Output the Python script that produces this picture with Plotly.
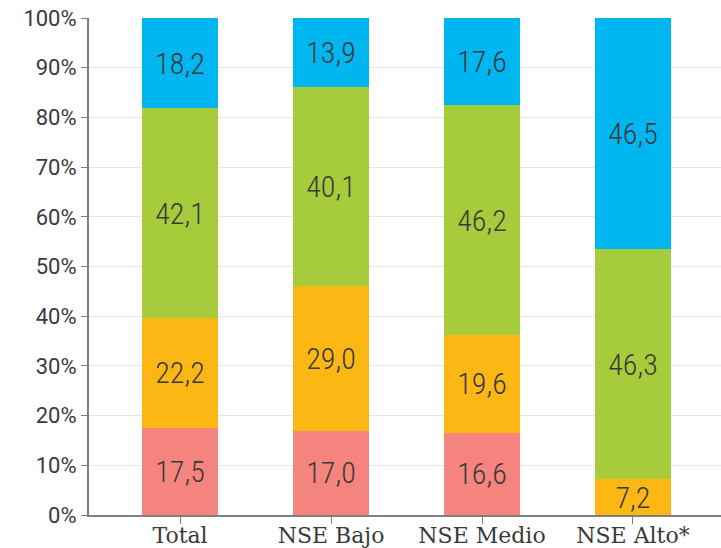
import plotly.graph_objects as go

categories = ["Total", "NSE Bajo", "NSE Medio", "NSE Alto*"]
series_names = ["Serie 1", "Serie 2", "Serie 3", "Serie 4"]
pink_vals = [17.5, 17.0, 16.6, 0.0]
orange_vals = [22.2, 29.0, 19.6, 7.2]
green_vals = [42.1, 40.1, 46.2, 46.3]
blue_vals = [18.2, 13.9, 17.6, 46.5]
y_ticks = [0, 10, 20, 30, 40, 50, 60, 70, 80, 90, 100]
y_tick_labels = [f"{v}%" for v in y_ticks]

colors = ["#F5847F", "#FCB714", "#A6CB3B", "#00B6F0"]
all_vals = [pink_vals, orange_vals, green_vals, blue_vals]

label_font = dict(family="Roboto Condensed, Liberation Sans Narrow, DejaVu Sans Condensed, Roboto",
                  size=30, color="#3a3a3a", weight=300)

fig = go.Figure()
for name, vals, col in zip(series_names, all_vals, colors):
    texts = [f"{v:.1f}".replace(".", ",") if v > 0 else "" for v in vals]
    fig.add_trace(go.Bar(
        x=categories, y=vals, name=name, marker=dict(color=col, line=dict(width=0)),
        text=texts, textposition="inside", insidetextanchor="middle",
        textfont=label_font, width=0.503, hoverinfo="skip",
        constraintext="none", textangle=0,
    ))

fig.update_layout(
    barmode="stack",
    width=721, height=548,
    margin=dict(l=89, r=0, t=18, b=33),
    plot_bgcolor="white", paper_bgcolor="white",
    showlegend=False,
    uniformtext=dict(minsize=30, mode="show"),
    xaxis=dict(
        range=[-0.603, 3.583], automargin=False,
        showline=True, linecolor="#7f7f7f", linewidth=2,
        ticks="outside", ticklen=7, tickcolor="#7f7f7f", tickwidth=1,
        ticklabelstandoff=-7,
        tickfont=dict(family="DejaVu Serif", size=22, color="#3a3a3a"),
        showgrid=False, fixedrange=True,
    ),
    yaxis=dict(
        range=[0, 100], tickvals=y_ticks, ticktext=y_tick_labels, automargin=False,
        showline=True, linecolor="#7f7f7f", linewidth=2,
        ticks="outside", ticklen=6, tickcolor="#7f7f7f", tickwidth=1,
        tickfont=dict(family="Roboto", size=22, color="#3a3a3a"),
        showgrid=True, gridcolor="#e6e6e6", gridwidth=1,
        zeroline=False, fixedrange=True,
    ),
)

fig.write_html(
    "out.html",
    config={"displayModeBar": False},
    post_script="document.body.style.margin='0';document.body.style.overflow='hidden';",
)
